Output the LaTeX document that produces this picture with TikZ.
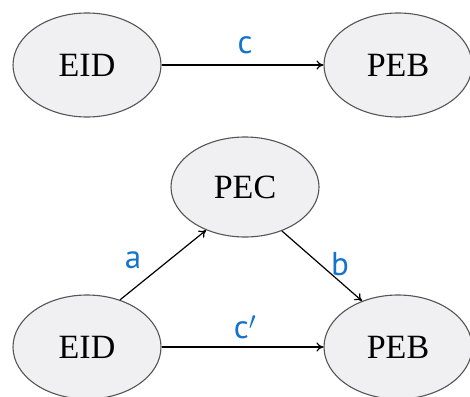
\documentclass[tikz,border=0pt]{standalone}
\usepackage{fontspec}
\setmainfont{Liberation Serif}
\newfontfamily\lblfont{PT Sans}
\usetikzlibrary{shapes.geometric,arrows.meta}
\definecolor{lblblue}{RGB}{20,115,205}
\definecolor{ellfill}{RGB}{240,240,243}
\definecolor{ellline}{RGB}{85,85,85}
\begin{document}
\begin{tikzpicture}[x=1pt,y=-1pt,
  var/.style={ellipse,draw=ellline,line width=1.1pt,fill=ellfill,
    minimum width=148pt,minimum height=104pt,inner sep=0pt,
    font=\fontsize{34}{36}\selectfont},
  conn/.style={line width=1.2pt,-{To[length=7pt,width=9pt]}},
  lbl/.style={text=lblblue,font=\lblfont\fontsize{33}{34}\selectfont}]
\useasboundingbox (0,0) rectangle (470,396);
\node[var] (eid1) at (87,65) {EID};
\node[var] (peb1) at (398,65) {PEB};
\node[var, minimum height=100pt] (pec) at (245,187) {PEC};
\node[var] (eid2) at (87,347) {EID};
\node[var] (peb2) at (398,347) {PEB};
\draw[conn] (eid1) -- (peb1);
\draw[conn] (eid2.55) -- (pec.-132);
\draw[conn] (pec.-50) -- (peb2.128);
\draw[conn] (eid2) -- (peb2);
\node[lbl] (lc) at (245,45) {c};
\node[lbl] (la) at (133,260) {a};
\node[lbl] (lb) at (340,264) {b};
\node[lbl] (lcp) at (245,327) {c$'$};
\end{tikzpicture}
\end{document}
